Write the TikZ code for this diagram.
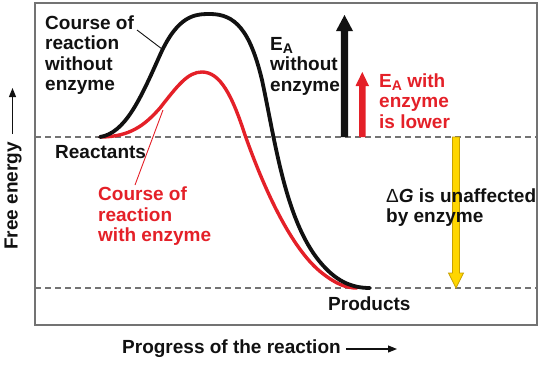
\documentclass[tikz,border=0pt]{standalone}
\usepackage{fontspec}
\setmainfont{Liberation Sans}
\newfontfamily\regsans{Liberation Sans}
\usetikzlibrary{arrows.meta}
\definecolor{myred}{RGB}{228,32,40}
\definecolor{mygray}{RGB}{115,115,115}
\definecolor{myyellow}{RGB}{255,214,0}
\definecolor{myyellowdark}{RGB}{200,160,0}
\definecolor{myblack}{RGB}{17,17,17}
\newcommand{\EAsub}{E\raisebox{-3.5pt}{\fontsize{14}{14}\selectfont A}}
\begin{document}
\begin{tikzpicture}[x=1pt,y=-1pt,
  lbl/.style={font=\fontsize{19}{20.5}\selectfont\bfseries, inner sep=0pt, anchor=base west, align=left, text=myblack},
  redlbl/.style={lbl, text=myred},
  dashline/.style={mygray, line width=1.1pt, dash pattern=on 6pt off 4pt},
  curveblack/.style={myblack, line width=3.8pt, line cap=round},
  curvered/.style={myred, line width=3.4pt, line cap=round},
  leader/.style={line width=0.9pt}
]
\useasboundingbox (0,0) rectangle (556,367);
% frame
\draw[mygray, line width=1.5pt] (35,3) rectangle (537,325);
% dashed levels
\coordinate (rl) at (35,137);
\coordinate (rr) at (537,137);
\coordinate (pl) at (35,288);
\coordinate (pr) at (537,288);
\draw[dashline] (rl) -- (rr);
\draw[dashline] (pl) -- (pr);
% yellow arrow (Delta G)
\draw[fill=myyellow, draw=myyellowdark, line width=0.8pt]
  (452.5,137) -- (459.5,137) -- (459.5,273) -- (463.5,273) -- (456,288) -- (448.5,273) -- (452.5,273) -- cycle;
% red curve (with enzyme)
\coordinate (start) at (100,137);
\draw[curvered] (start) .. controls (130,137) and (145,125) .. (160,108)
  .. controls (178,85) and (188,72) .. (202,72)
  .. controls (220,72) and (232,95) .. (245,135)
  .. controls (268,200) and (295,252) .. (322,273)
  .. controls (336,284) and (346,288) .. (357,288);
% black curve (without enzyme)
\draw[curveblack] (start) .. controls (125,133) and (140,100) .. (160,55)
  .. controls (178,15) and (195,14) .. (210,14)
  .. controls (235,14) and (250,30) .. (262,80)
  .. controls (275,140) and (285,220) .. (320,262)
  .. controls (335,280) and (350,288) .. (370,288);
% black EA arrow
\fill[myblack] (340.8,137) -- (348.2,137) -- (348.2,31) -- (353,31) -- (344.5,15) -- (336,31) -- (340.8,31) -- cycle;
% red EA arrow
\fill[myred] (359,137) -- (365.6,137) -- (365.6,86) -- (369,86) -- (362.3,72) -- (355.5,86) -- (359,86) -- cycle;
% labels (anchor = baseline of the last line)
\node[lbl] (cwo) at (45,90.5) {Course of\\reaction\\without\\enzyme};
\coordinate (cwoend) at (137,30);
\coordinate (cwocurve) at (162,49);
\draw[leader, myblack] (cwoend) -- (cwocurve);
\node[lbl] (react) at (55,158) {Reactants};
\node[redlbl] (cwe) at (98,241.7) {Course of\\reaction\\with enzyme};
\coordinate (cwecurve) at (163,110);
\coordinate (cweend) at (135,185);
\draw[leader, myred] (cwecurve) -- (cweend);
\node[lbl] (eawo) at (270,91) {\EAsub\\without\\enzyme};
\node[redlbl] (eaw) at (379,128) {\EAsub{} with\\enzyme\\is lower};
\node[lbl] (dg) at (386,222.5) {{\regsans\mdseries Δ}\textit{G} is unaffected\\by enzyme};
\node[lbl] (prod) at (328,310) {Products};
\node[lbl] (xlab) at (122,353) {Progress of the reaction};
\coordinate (xa1) at (346,349);
\coordinate (xa2) at (397,349);
\draw[myblack, line width=1.1pt, -{Triangle[length=9pt,width=7pt]}] (xa1) -- (xa2);
\node[lbl, rotate=90] (ylab) at (17.5,250) {Free energy};
\coordinate (ya1) at (12.5,134);
\coordinate (ya2) at (12.5,88);
\draw[myblack, line width=1.1pt, -{Triangle[length=9pt,width=7pt]}] (ya1) -- (ya2);
\end{tikzpicture}
\end{document}
